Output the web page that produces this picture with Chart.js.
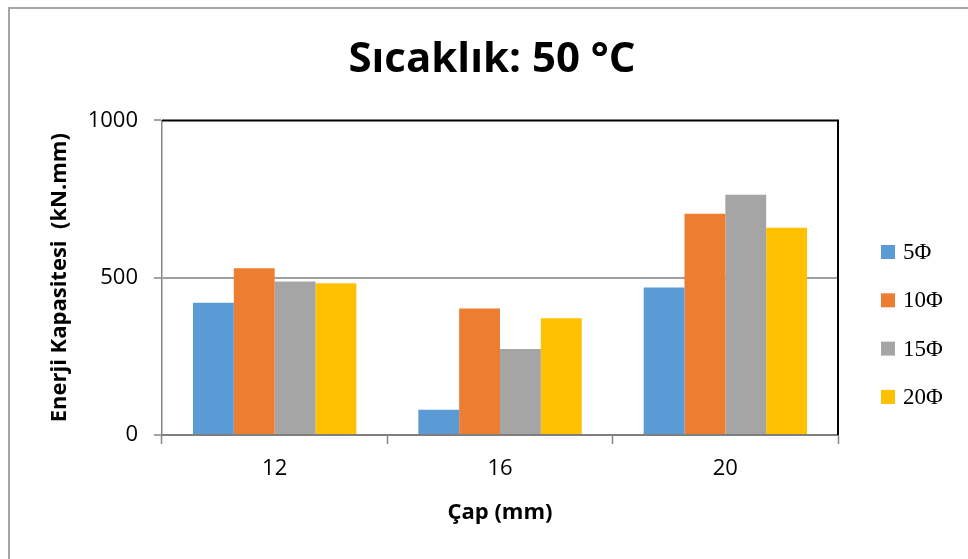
<!DOCTYPE html>
<html>
<head>
<meta charset="utf-8">
<script src="https://cdn.jsdelivr.net/npm/chart.js@4.4.1/dist/chart.umd.min.js"></script>
<style>
  html, body { margin: 0; padding: 0; background: #fff; }
  #wrap { position: relative; width: 968px; height: 559px; }
</style>
</head>
<body>
<div id="wrap"><canvas id="chart" width="968" height="559"></canvas></div>
<script>
// chart values
const diameters = ['12', '16', '20'];
const seriesNames = ['5\u03A6', '10\u03A6', '15\u03A6', '20\u03A6'];
const values5 = [420, 80, 469];
const values10 = [530, 402, 703];
const values15 = [488, 273, 764];
const values20 = [482, 371, 659];
const yTicks = [0, 500, 1000];

const colors = ['#5B9BD5', '#ED7D31', '#A5A5A5', '#FFC000'];
const allValues = [values5, values10, values15, values20];

const sans = "'Open Sans', 'Liberation Sans', sans-serif";

// frame round the whole picture + black top/right edge of the plot area
const framePlugin = {
    id: 'frame',
    beforeDraw(chart) {
        const ctx = chart.ctx;
        ctx.save();
        ctx.fillStyle = '#fff';
        ctx.fillRect(0, 0, chart.width, chart.height);
        ctx.strokeStyle = '#a6a6a6';
        ctx.lineWidth = 2;
        ctx.strokeRect(9, 8, chart.width + 20, chart.height + 20);
        ctx.restore();
    },
    afterDatasetsDraw(chart) {
        const a = chart.chartArea;
        const ctx = chart.ctx;
        ctx.save();
        ctx.strokeStyle = '#000';
        ctx.lineWidth = 2;
        ctx.beginPath();
        ctx.moveTo(a.left, a.top);
        ctx.lineTo(a.right, a.top);
        ctx.lineTo(a.right, a.bottom);
        ctx.stroke();
        ctx.restore();
    }
};

// legend on the right, drawn from the datasets
const legendPlugin = {
    id: 'sideLegend',
    afterDraw(chart) {
        const ctx = chart.ctx;
        ctx.save();
        ctx.font = "23px 'Liberation Serif', 'Times New Roman', serif";
        ctx.textBaseline = 'middle';
        chart.data.datasets.forEach((ds, i) => {
            const cy = 252 + i * 48.3;
            ctx.fillStyle = ds.backgroundColor;
            ctx.fillRect(881, cy - 7, 14, 14);
            ctx.fillStyle = '#000';
            ctx.fillText(ds.label, 903, cy + 1);
        });
        ctx.restore();
    }
};

const datasets = seriesNames.map((name, i) => ({
    label: name,
    data: allValues[i],
    backgroundColor: colors[i],
    borderWidth: 0,
    categoryPercentage: 0.725,
    barPercentage: 1.0
}));

new Chart(document.getElementById('chart'), {
    type: 'bar',
    data: { labels: diameters, datasets: datasets },
    plugins: [framePlugin, legendPlugin],
    options: {
        responsive: false,
        animation: false,
        layout: { padding: { left: 16, right: 0, top: 0, bottom: 0 } },
        plugins: {
            legend: { display: false },
            tooltip: { enabled: false },
            title: {
                display: true,
                text: 'Sıcaklık: 50 °C',
                color: '#000',
                font: { family: sans, size: 42, weight: 'bold' },
                padding: { top: 35, bottom: 35 }
            }
        },
        scales: {
            x: {
                afterFit: s => { s.height = 124; },
                grid: {
                    offset: true,
                    drawOnChartArea: false,
                    drawTicks: true,
                    tickLength: 9,
                    tickColor: '#868686',
                    tickWidth: 1.5
                },
                border: { color: '#7f7f7f', width: 2 },
                ticks: {
                    color: '#000',
                    font: { family: sans, size: 22 },
                    padding: 12
                },
                title: {
                    display: true,
                    text: 'Çap (mm)',
                    color: '#000',
                    font: { family: sans, size: 22, weight: 'bold' },
                    padding: { top: 0, bottom: 33 }
                }
            },
            y: {
                min: 0,
                max: 1000,
                afterFit: s => { s.width = 146; },
                afterBuildTicks: s => { s.ticks = yTicks.map(v => ({ value: v })); },
                grid: {
                    color: ctx => ctx.tick && ctx.tick.value === 500 ? '#a0a0a0' : 'rgba(0,0,0,0)',
                    lineWidth: 2,
                    drawTicks: true,
                    tickLength: 8,
                    tickColor: '#868686',
                    tickWidth: 1.5
                },
                border: { color: '#868686', width: 1.5 },
                ticks: {
                    color: '#000',
                    font: { family: sans, size: 22 },
                    padding: 16,
                    callback: v => String(v)
                },
                title: {
                    display: true,
                    text: 'Enerji Kapasitesi  (kN.mm)',
                    color: '#000',
                    font: { family: sans, size: 22, weight: 'bold' },
                    padding: { top: 31, bottom: 0 }
                }
            },
            // empty box on the right that keeps room for the legend
            side: {
                type: 'linear',
                position: 'right',
                afterFit: s => { s.width = 130; },
                grid: { display: false },
                border: { display: false },
                ticks: { display: false }
            }
        }
    }
});
</script>
</body>
</html>
